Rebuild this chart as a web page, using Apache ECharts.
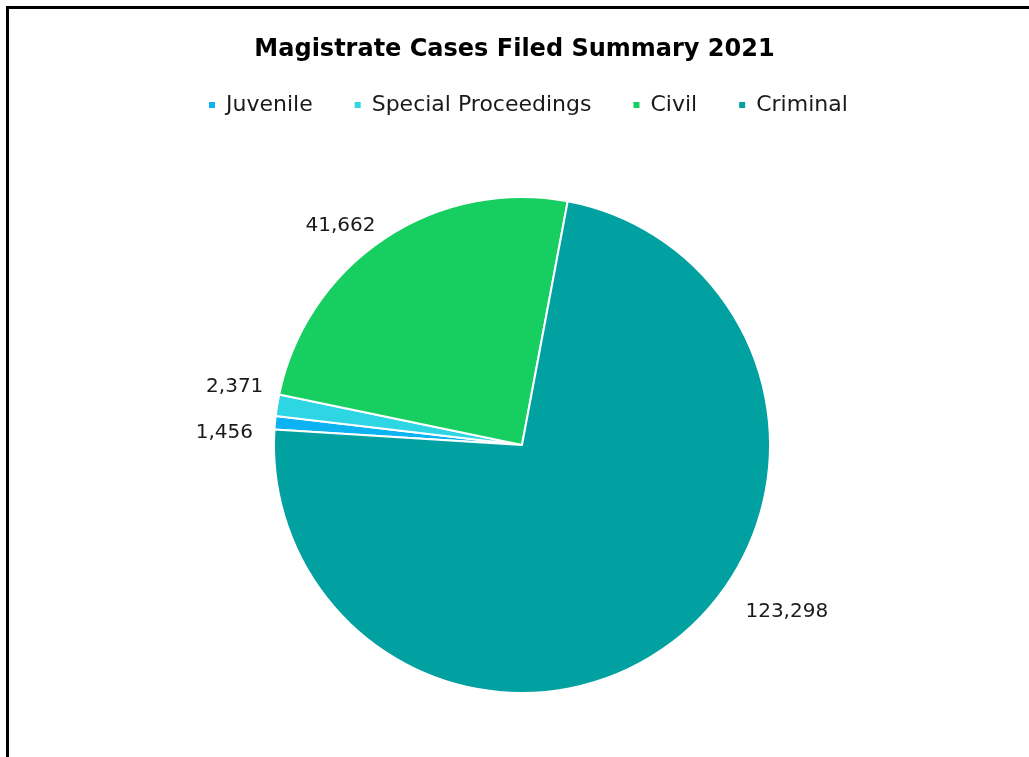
<!DOCTYPE html>
<html>
<head>
<meta charset="utf-8">
<script src="https://cdn.jsdelivr.net/npm/echarts@6/dist/echarts.min.js"></script>
<style>
html,body{margin:0;padding:0;background:#fff;overflow:hidden;}
#frame{position:absolute;left:6px;top:6px;width:1100px;height:800px;border-left:3px solid #000;border-top:3px solid #000;}
#chart{position:absolute;left:0;top:0;width:1029px;height:757px;}
</style>
</head>
<body>
<div id="frame"></div>
<div id="chart"></div>
<script>
const title = 'Magistrate Cases Filed Summary 2021';
const categories = ['Juvenile', 'Special Proceedings', 'Civil', 'Criminal'];
const values = [1456, 2371, 41662, 123298];
const colors = ['#0BB3F2', '#2DD6E2', '#17CE60', '#00A1A0'];

const labelOffsets = [[-7, 11], [1, -17], [2, -5], [60, -37]];
const FONT = '"DejaVu Sans", sans-serif';

const chart = echarts.init(document.getElementById('chart'));
chart.setOption({
  animation: false,
  title: {
    text: title, left: 'center', top: 33,
    textStyle: {fontFamily: FONT, fontWeight: 'bold', fontSize: 24, color: '#000'}
  },
  legend: {
    top: 89, left: 202, itemWidth: 8, itemHeight: 8, itemGap: 40,
    icon: 'rect',
    textStyle: {fontFamily: FONT, fontSize: 22, color: '#1a1a1a', padding: [0, 0, 0, 5]},
    data: categories
  },
  color: colors,
  series: [{
    type: 'pie',
    center: [522, 445],
    radius: 248,
    startAngle: 176.4,
    clockwise: true,
    avoidLabelOverlap: false,
    labelLayout: {hideOverlap: false},
    itemStyle: {borderColor: '#fff', borderWidth: 2},
    label: {show: true, position: 'outside', fontFamily: FONT, fontSize: 20, color: '#1a1a1a',
      formatter: p => p.value.toLocaleString('en-US')},
    labelLine: {show: false, length: 10, length2: 0},
    data: categories.map((c, i) => ({name: c, value: values[i], label: {offset: labelOffsets[i]}}))
  }]
});
</script>
</body>
</html>
